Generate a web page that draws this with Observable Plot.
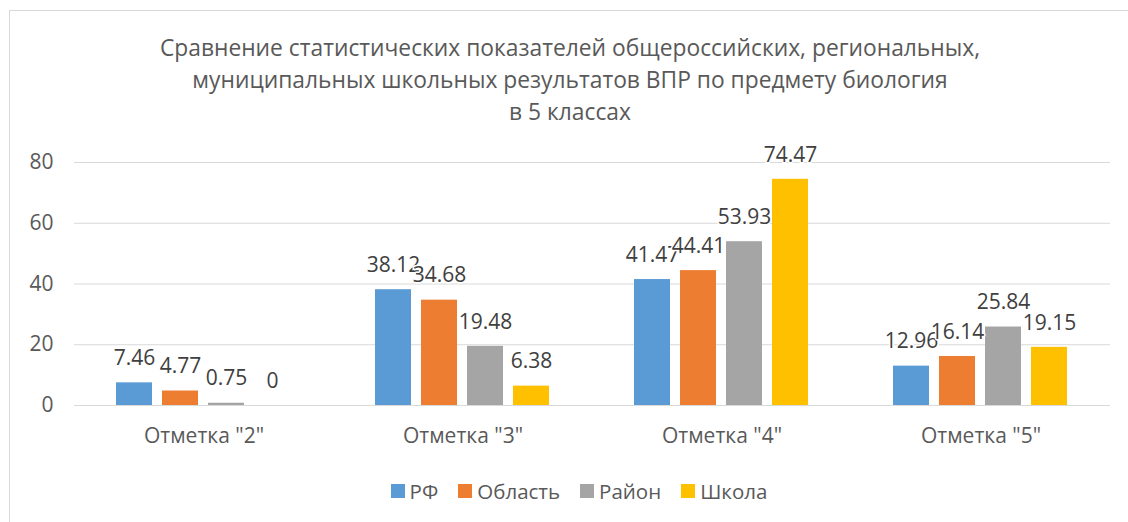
<!DOCTYPE html>
<html>
<head>
<meta charset="utf-8">
<script src="https://cdn.jsdelivr.net/npm/d3@7"></script>
<script src="https://cdn.jsdelivr.net/npm/@observablehq/plot@0.6"></script>
<style>
  html, body { margin: 0; padding: 0; background: #fff; overflow: hidden; }
  #wrap { position: relative; width: 1128px; height: 522px; font-family: "Open Sans", sans-serif; }
  #border { position: absolute; left: 9px; top: 10px; width: 1200px; height: 600px;
            border-top: 1px solid #d9d9d9; border-left: 1px solid #d9d9d9; }
  #title { position: absolute; left: 70px; width: 1000px; top: 32px; text-align: center;
           font-size: 22.8px; line-height: 32px; color: #595959; }
  #chart { position: absolute; left: 0; top: 130px; }
  #legend { position: absolute; left: 0; width: 1158px; top: 477px; display: flex; justify-content: center;
            font-size: 20.5px; color: #595959; }
  .item { display: flex; align-items: center; margin: 0 10px; }
  .sw { width: 14px; height: 14px; margin-right: 5px; }
</style>
</head>
<body>
<div id="wrap">
  <div id="border"></div>
  <div id="title"></div>
  <div id="chart"></div>
  <div id="legend"></div>
</div>
<script>
const titleLines = [
  "Сравнение статистических показателей общероссийских, региональных,",
  "муниципальных школьных результатов ВПР по предмету биология",
  "в 5 классах"
];
const categories = ['Отметка "2"', 'Отметка "3"', 'Отметка "4"', 'Отметка "5"'];
const series = ["РФ", "Область", "Район", "Школа"];
const colors = ["#5B9BD5", "#ED7D31", "#A5A5A5", "#FFC000"];
const valuesRF = [7.46, 38.12, 41.47, 12.96];
const valuesOblast = [4.77, 34.68, 44.41, 16.14];
const valuesRayon = [0.75, 19.48, 53.93, 25.84];
const valuesShkola = [0, 6.38, 74.47, 19.15];
const yTicks = [0, 20, 40, 60, 80];

const seriesValues = [valuesRF, valuesOblast, valuesRayon, valuesShkola];
const data = [];
categories.forEach((c, i) => {
  series.forEach((s, j) => {
    data.push({category: c, series: s, value: seriesValues[j][i]});
  });
});

document.getElementById("title").innerHTML = titleLines.map(t => `<div>${t}</div>`).join("");

const chart = Plot.plot({
  width: 1128,
  height: 330,
  marginLeft: 73,
  marginRight: 17,
  marginTop: 32,
  marginBottom: 55,
  style: {fontFamily: "Open Sans, sans-serif", fontSize: "21px", color: "#595959", background: "transparent"},
  facet: {data, x: "category"},
  fx: {domain: categories, padding: 0, axis: "bottom", tickSize: 0, tickPadding: 23, label: null},
  x: {domain: series, axis: null, paddingInner: 0.2128, paddingOuter: 0.867},
  y: {domain: [0, 80], ticks: yTicks, tickSize: 0, tickPadding: 21, label: null},
  color: {domain: series, range: colors},
  marks: [
    Plot.ruleY(yTicks, {stroke: "#d9d9d9", strokeWidth: 1}),
    Plot.barY(data, {x: "series", y: "value", fill: "series"}),
    Plot.text(data, {x: "series", y: "value", text: d => String(d.value), dy: -24.5,
      fill: "#404040", stroke: "white", strokeWidth: 3, paintOrder: "stroke", fontSize: 21})
  ]
});
document.getElementById("chart").appendChild(chart);

const legend = document.getElementById("legend");
series.forEach((s, i) => {
  const it = document.createElement("div");
  it.className = "item";
  it.innerHTML = `<span class="sw" style="background:${colors[i]}"></span><span>${s}</span>`;
  legend.appendChild(it);
});
</script>
</body>
</html>
